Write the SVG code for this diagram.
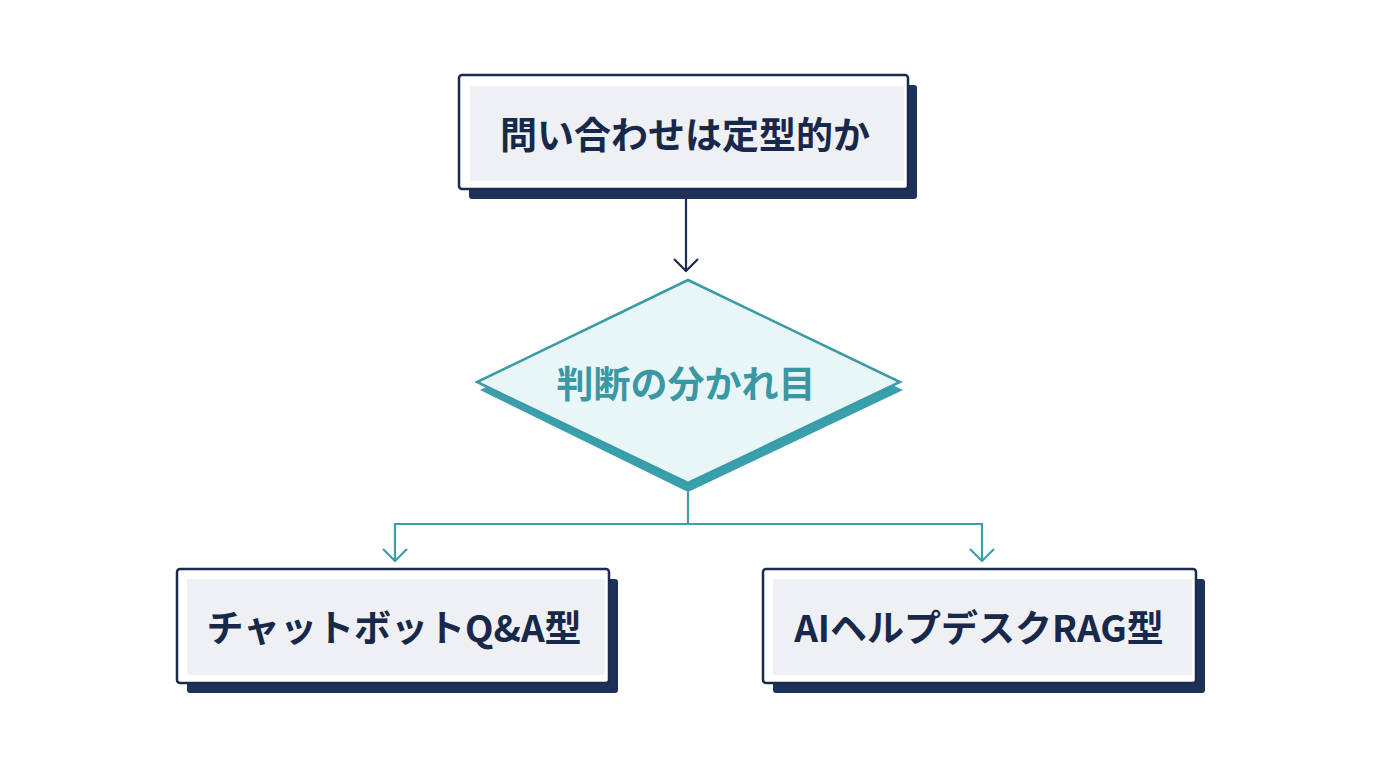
<svg xmlns="http://www.w3.org/2000/svg" width="1376" height="768" viewBox="0 0 1376 768">
<style>
.shadow{fill:#1e3259}
.frame{fill:#ffffff;stroke:#1b2b4b;stroke-width:2.5}
.inner{fill:#eef0f4}
.lbl{font-family:"Noto Sans CJK JP","Noto Sans",sans-serif;font-weight:700;font-size:37px;fill:#17284a;text-anchor:middle;dominant-baseline:central}
.dlbl{font-family:"Noto Sans CJK JP","Noto Sans",sans-serif;font-weight:700;font-size:37px;fill:#3a97a3;text-anchor:middle;dominant-baseline:central}
.navy{fill:none;stroke:#1b2b4b;stroke-width:2.2}
.teal{fill:none;stroke:#3d9ea9;stroke-width:2.2}
</style>
<rect width="1376" height="768" fill="#ffffff"/>
<g id="connectors">
<line class="navy" x1="686" y1="199" x2="686" y2="271"/>
<polyline class="navy" points="674,259 686,271 698,259"/>
<polyline class="teal" points="688,492 688,524 395,524 395,561"/>
<polyline class="teal" points="688,524 982,524 982,561"/>
<polyline class="teal" points="383,549 395,561 407,549"/>
<polyline class="teal" points="970,549 982,561 994,549"/>
</g>
<g id="start">
<rect class="shadow" x="469" y="85" width="448" height="114" rx="3"/>
<rect class="frame" x="459" y="75" width="449" height="114" rx="3"/>
<rect class="inner" x="470" y="86" width="434" height="95"/>
<text class="lbl" x="685" y="133">問い合わせは定型的か</text>
</g>
<g id="decision">
<polygon points="688,289 903,390 688,492 480,390" fill="#3a9fac"/>
<polygon points="688,280 900,382 688,483 477,382" fill="#e8f6f8" stroke="#3a9aa6" stroke-width="2.5"/>
<text class="dlbl" x="686" y="382">判断の分かれ目</text>
</g>
<g id="chatbot">
<rect class="shadow" x="187" y="579" width="431" height="114" rx="3"/>
<rect class="frame" x="177" y="569" width="432" height="114" rx="3"/>
<rect class="inner" x="187" y="579" width="418" height="96"/>
<text class="lbl" x="394" y="626">チャットボットQ&amp;A型</text>
</g>
<g id="helpdesk">
<rect class="shadow" x="773" y="579" width="432" height="114" rx="3"/>
<rect class="frame" x="763" y="569" width="433" height="114" rx="3"/>
<rect class="inner" x="773" y="579" width="419" height="96"/>
<text class="lbl" x="979" y="626">AIヘルプデスクRAG型</text>
</g>
</svg>
